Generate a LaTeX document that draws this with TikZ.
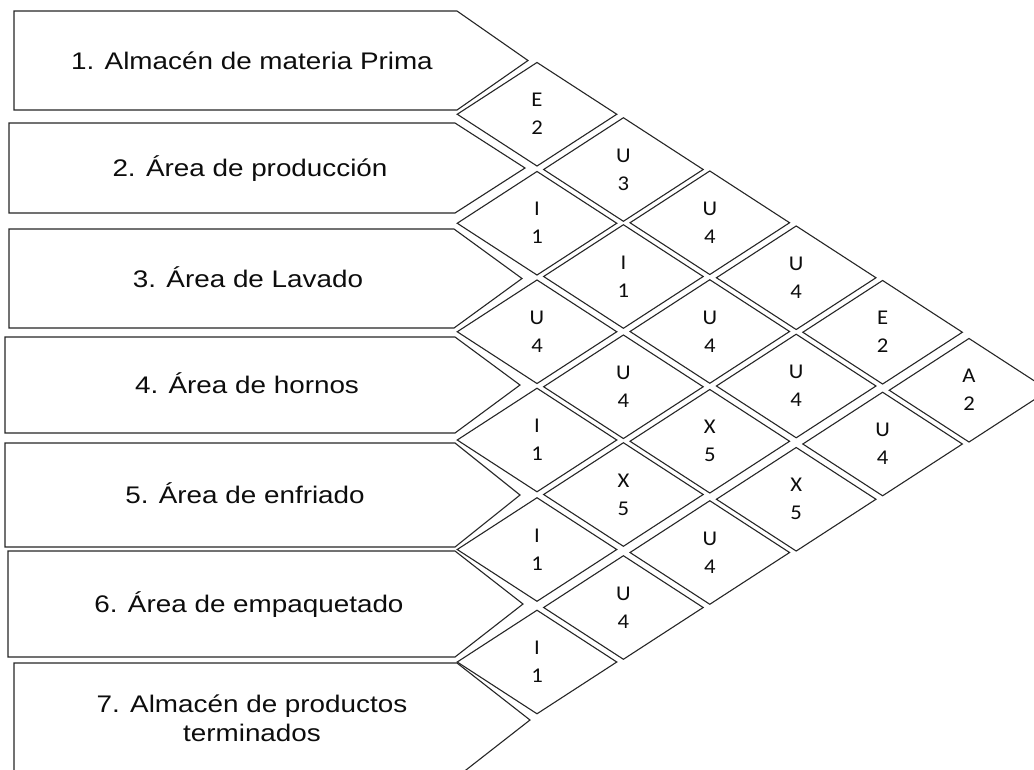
\documentclass[tikz,border=0pt]{standalone}
\usepackage{fontspec}
\usetikzlibrary{shapes.geometric}
\newfontfamily\boxfont[FakeStretch=1.16]{Liberation Sans}
\newfontfamily\relfont[FakeStretch=1.08]{Carlito}
\begin{document}
\begin{tikzpicture}[x=1pt,y=-1pt,
  boxshape/.style={draw=black!85, line width=1.1pt, fill=white, line join=miter},
  boxtext/.style={font=\boxfont\fontsize{24}{29}\selectfont, text=black!95, align=center, inner sep=0pt},
  rel/.style={shape=diamond, draw=black!85, line width=1.1pt, minimum width=160pt, minimum height=104pt,
    inner sep=0pt, font=\relfont\fontsize{21}{28}\selectfont, text=black!95, align=center}]
\useasboundingbox (0,0) rectangle (1034,769);
\clip (0,0) rectangle (1034,769);
% department boxes
\draw[boxshape] (14,11) -- (457,11) -- (528,60.5) -- (457,110) -- (14,110) -- cycle;
\draw[boxshape] (9,123) -- (455,123) -- (525,168) -- (455,213) -- (9,213) -- cycle;
\draw[boxshape] (9,229) -- (454,229) -- (522,278.5) -- (454,328) -- (9,328) -- cycle;
\draw[boxshape] (5,337) -- (455,337) -- (520,385) -- (455,433) -- (5,433) -- cycle;
\draw[boxshape] (5,443) -- (455,443) -- (520,495) -- (455,547) -- (5,547) -- cycle;
\draw[boxshape] (8,551) -- (455,551) -- (523,604) -- (455,657) -- (8,657) -- cycle;
\draw[boxshape] (14,663) -- (457,663) -- (530,720) -- (457,777) -- (14,777) -- cycle;
\node[boxtext, anchor=base] (b1) at (252,69) {1. Almacén de materia Prima};
\node[boxtext, anchor=base] (b2) at (250,176.5) {2. Área de producción};
\node[boxtext, anchor=base] (b3) at (248,287) {3. Área de Lavado};
\node[boxtext, anchor=base] (b4) at (247,393.5) {4. Área de hornos};
\node[boxtext, anchor=base] (b5) at (245,503.5) {5. Área de enfriado};
\node[boxtext, anchor=base] (b6) at (249,612.5) {6. Área de empaquetado};
\node[boxtext, anchor=center] (b7) at (252,718.5) {7. Almacén de productos\\terminados};
% relationship diamonds
\foreach \i/\j/\l/\n in {1/2/E/2, 1/3/U/3, 1/4/U/4, 1/5/U/4, 1/6/E/2, 1/7/A/2,
  2/3/I/1, 2/4/I/1, 2/5/U/4, 2/6/U/4, 2/7/U/4,
  3/4/U/4, 3/5/U/4, 3/6/X/5, 3/7/X/5,
  4/5/I/1, 4/6/X/5, 4/7/U/4,
  5/6/I/1, 5/7/U/4,
  6/7/I/1}{
  \pgfmathsetmacro\ri{{60.5,168,278.5,385,495,604,720}[\i-1]}
  \pgfmathsetmacro\rj{{60.5,168,278.5,385,495,604,720}[\j-1]}
  \pgfmathsetmacro\dx{537+(\j-\i-1)*86.4}
  \pgfmathsetmacro\dy{(\ri+\rj)/2}
  \node[rel] (d\i\j) at (\dx,\dy) {\l\\\n};
}
\end{tikzpicture}
\end{document}
